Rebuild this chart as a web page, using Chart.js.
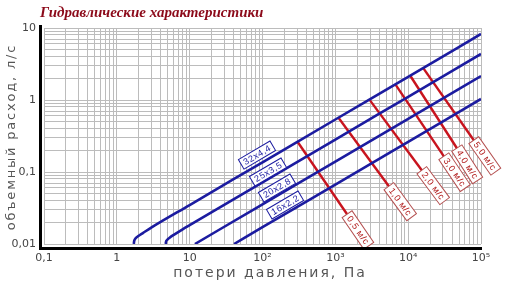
<!DOCTYPE html>
<html><head><meta charset="utf-8">
<script src="https://cdn.jsdelivr.net/npm/chart.js@4/dist/chart.umd.min.js"></script>
<style>html,body{margin:0;padding:0;background:#fff;}canvas{display:block}</style>
</head><body>
<canvas id="c" width="508" height="290"></canvas>
<script>
// ---- texts / ticks ----
const chartTitle = 'Гидравлические характеристики';
const xAxisTitle = 'потери давления, Па';
const yAxisTitle = 'объемный расход, л/с';
const xTickValues = [0.1, 1, 10, 100, 1000, 10000, 100000];
const xTickLabels = ['0,1', '1', '10', '10²', '10³', '10⁴', '10⁵'];
const yTickValues = [0.01, 0.1, 1, 10];
const yTickLabels = ['0,01', '0,1', '1', '10'];

// ---- pipe characteristic curves (pressure loss Pa, flow l/s) ----
const pipeNames = ['32х4,4', '25х3,5', '20х2,8', '16х2,2'];
const pipe32P = [1.71, 1.73, 1.8, 1.95, 2.3, 3, 10, 100, 1000, 10000, 100000];
const pipe32Q = [0.0100, 0.0110, 0.0119, 0.0128, 0.0143, 0.0170, 0.0348, 0.1365, 0.536, 2.10, 8.26];
const pipe25P = [4.69, 4.72, 4.9, 5.3, 6.2, 8, 10, 100, 1000, 10000, 100000];
const pipe25Q = [0.0100, 0.0106, 0.0114, 0.0122, 0.0136, 0.0160, 0.0183, 0.0719, 0.2825, 1.109, 4.355];
const pipe20P = [11.8, 100, 1000, 10000, 100000];
const pipe20Q = [0.0100, 0.0356, 0.1396, 0.548, 2.153];
const pipe16P = [40.7, 100, 1000, 10000, 100000];
const pipe16Q = [0.0100, 0.0171, 0.0670, 0.263, 1.033];
// label anchor (box centre) for each pipe
const pipeLabelP = [84, 119, 158, 204];
const pipeLabelQ = [0.172, 0.100, 0.060, 0.0348];

// ---- velocity lines ----
const velocityNames = ['0,5 м/с', '1,0 м/с', '2,0 м/с', '3,0 м/с', '4,0 м/с', '5,0 м/с'];
const velStartP = [301, 1099, 2924, 6640, 10640, 16030];
const velStartQ = [0.265, 0.57, 1.02, 1.66, 2.19, 2.79];
const velEndP = [1507, 5660, 16030, 32100, 48400, 82800];
const velEndQ = [0.0245, 0.060, 0.100, 0.156, 0.202, 0.261];

const BLUE = '#1c1ca0';
const RED = '#c8141e';

function zip(P, Q) { return P.map((p, i) => ({x: p, y: Q[i]})); }
function gridTicks(lo, hi) {
  const t = [];
  for (let e = Math.round(Math.log10(lo)); e < Math.round(Math.log10(hi)); e++) {
    for (let m = 1; m <= 9; m++) t.push({value: m * Math.pow(10, e)});
  }
  t.push({value: hi});
  return t;
}
function labelFor(values, labels, v) {
  const i = values.findIndex(t => Math.abs(t - v) / t < 1e-6);
  return i >= 0 ? labels[i] : '';
}

const pipeSets = [[pipe32P, pipe32Q], [pipe25P, pipe25Q], [pipe20P, pipe20Q], [pipe16P, pipe16Q]];
const datasets = [];
pipeSets.forEach(([P, Q], i) => datasets.push({
  label: pipeNames[i], data: zip(P, Q), borderColor: BLUE, borderWidth: 2.6,
  pointRadius: 0, cubicInterpolationMode: 'monotone', fill: false
}));
velocityNames.forEach((n, i) => datasets.push({
  label: n, data: [{x: velStartP[i], y: velStartQ[i]}, {x: velEndP[i], y: velEndQ[i]}],
  borderColor: RED, borderWidth: 2.4, pointRadius: 0, tension: 0, fill: false
}));

function boxLabel(ctx, cx, cy, ang, text, h, stroke, color) {
  ctx.save();
  ctx.translate(cx, cy);
  ctx.rotate(ang);
  ctx.font = '9px "Liberation Sans"';
  ctx.letterSpacing = '0.6px';
  const w = ctx.measureText(text).width + 6;
  ctx.fillStyle = '#fff';
  ctx.fillRect(-w / 2, -h / 2, w, h);
  ctx.strokeStyle = stroke;
  ctx.lineWidth = 1;
  ctx.strokeRect(-w / 2, -h / 2, w, h);
  ctx.fillStyle = color;
  ctx.textAlign = 'center';
  ctx.textBaseline = 'middle';
  ctx.fillText(text, 0.3, 0.5);
  ctx.restore();
}

const decor = {
  id: 'decor',
  afterDatasetsDraw(chart) {
    const {ctx, scales: {x, y}} = chart;
    pipeSets.forEach(([P, Q], i) => {
      const n = P.length;
      const ang = Math.atan2(y.getPixelForValue(Q[n - 1]) - y.getPixelForValue(Q[n - 2]),
                             x.getPixelForValue(P[n - 1]) - x.getPixelForValue(P[n - 2]));
      boxLabel(ctx, x.getPixelForValue(pipeLabelP[i]), y.getPixelForValue(pipeLabelQ[i]), ang,
               pipeNames[i], 11, BLUE, BLUE);
    });
    velocityNames.forEach((n, i) => {
      const x1 = x.getPixelForValue(velStartP[i]), y1 = y.getPixelForValue(velStartQ[i]);
      const x2 = x.getPixelForValue(velEndP[i]), y2 = y.getPixelForValue(velEndQ[i]);
      const L = Math.hypot(x2 - x1, y2 - y1), ux = (x2 - x1) / L, uy = (y2 - y1) / L;
      boxLabel(ctx, x2 + ux * 17, y2 + uy * 17, Math.atan2(uy, ux), n, 12, '#b45050', '#b01818');
    });
  },
  afterDraw(chart) {
    const {ctx, chartArea: a} = chart;
    ctx.save();
    ctx.strokeStyle = '#000';
    ctx.lineWidth = 3;
    ctx.beginPath();
    ctx.moveTo(a.left - 3.5, a.top - 3);
    ctx.lineTo(a.left - 3.5, a.bottom + 6);
    ctx.moveTo(a.left - 5, a.bottom + 4.5);
    ctx.lineTo(a.right + 1, a.bottom + 4.5);
    ctx.stroke();
    ctx.fillStyle = '#8c0a1a';
    ctx.font = 'bold italic 15px "Liberation Serif"';
    ctx.textAlign = 'left';
    ctx.textBaseline = 'middle';
    ctx.fillText(chartTitle, 40, 13);
    ctx.fillStyle = '#555';
    ctx.font = '14px "DejaVu Sans"';
    ctx.letterSpacing = '2px';
    ctx.textAlign = 'center';
    ctx.fillText(xAxisTitle, 270, 273);
    ctx.font = '13px "DejaVu Sans"';
    ctx.letterSpacing = '1.8px';
    ctx.translate(12, 137);
    ctx.rotate(-Math.PI / 2);
    ctx.fillText(yAxisTitle, 0, 0);
    ctx.restore();
  }
};

new Chart(document.getElementById('c'), {
  type: 'line',
  data: {datasets},
  plugins: [decor],
  options: {
    responsive: false, animation: false, devicePixelRatio: 1,
    layout: {padding: {top: 28, right: 27, left: 0, bottom: 0}},
    plugins: {legend: {display: false}, tooltip: {enabled: false}, title: {display: false}},
    scales: {
      x: {
        type: 'logarithmic', min: 0.1, max: 100000,
        afterFit(s) { s.height = 46; },
        afterBuildTicks(s) { s.ticks = gridTicks(0.1, 100000); },
        ticks: {autoSkip: false, maxRotation: 0, padding: 8, color: '#444',
                font: {family: 'DejaVu Sans', size: 11},
                callback: v => labelFor(xTickValues, xTickLabels, v)},
        grid: {color: '#bcbcbc', lineWidth: 1, drawTicks: false},
        border: {display: false}
      },
      y: {
        type: 'logarithmic', min: 0.01, max: 10,
        afterFit(s) { s.width = 44; },
        afterBuildTicks(s) { s.ticks = gridTicks(0.01, 10); },
        ticks: {autoSkip: false, padding: 8, color: '#444',
                font: {family: 'DejaVu Sans', size: 11},
                callback: v => labelFor(yTickValues, yTickLabels, v)},
        grid: {color: '#bcbcbc', lineWidth: 1, drawTicks: false},
        border: {display: false}
      }
    }
  }
});
</script>
</body></html>
